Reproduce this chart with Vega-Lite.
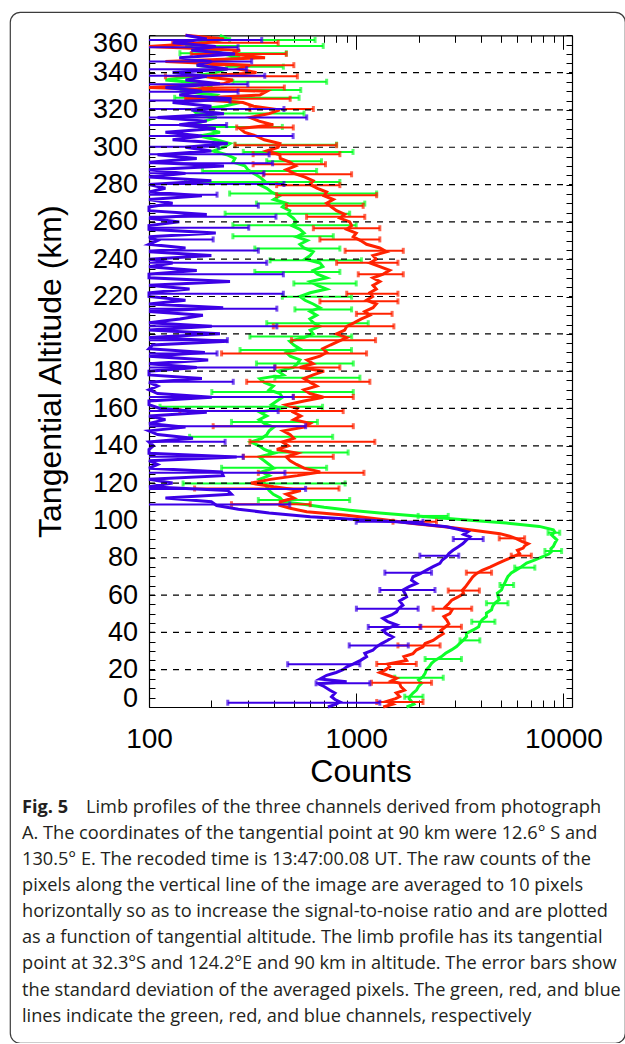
{
"$schema": "https://vega.github.io/schema/vega-lite/v6.json",
"width": 615, "height": 1031,
"autosize": "none",
"padding": {"left": 10, "top": 12, "right": 0, "bottom": 0},
"background": "white",
"config": {
 "view": {"stroke": "#3c3c3c", "strokeWidth": 1.2, "cornerRadius": 10, "fill": "white"},
 "axis": {"labelFont": "Liberation Sans", "titleFont": "Liberation Sans", "labelColor": "#000", "titleColor": "#000", "domainColor": "#000", "tickColor": "#000", "titleFontWeight": "normal", "grid": false, "zindex": 1, "domainWidth": 1.2, "tickWidth": 1}
},
"resolve": {"scale": {"x": "independent", "y": "independent"}, "axis": {"x": "independent", "y": "independent"}},
"datasets": {
 "grid": [{"alt":20},{"alt":40},{"alt":60},{"alt":80},{"alt":100},{"alt":120},{"alt":140},{"alt":160},{"alt":180},{"alt":200},{"alt":220},{"alt":240},{"alt":260},{"alt":280},{"alt":300},{"alt":320},{"alt":340}],
 "fig": [{"line":1,"text":"Fig. 5"}],
 "cap1": [{"line":1,"text":"Limb profiles of the three channels derived from photograph"}],
 "cap": [
  {"line":2,"text":"A. The coordinates of the tangential point at 90 km were 12.6° S and"},
  {"line":3,"text":"130.5° E. The recoded time is 13:47:00.08 UT. The raw counts of the"},
  {"line":4,"text":"pixels along the vertical line of the image are averaged to 10 pixels"},
  {"line":5,"text":"horizontally so as to increase the signal-to-noise ratio and are plotted"},
  {"line":6,"text":"as a function of tangential altitude. The limb profile has its tangential"},
  {"line":7,"text":"point at 32.3°S and 124.2°E and 90 km in altitude. The error bars show"},
  {"line":8,"text":"the standard deviation of the averaged pixels. The green, red, and blue"},
  {"line":9,"text":"lines indicate the green, red, and blue channels, respectively"}
 ],
 "lines": [
  {"ch":"g","alt":0,"v":1750},{"ch":"g","alt":1.5,"v":1900},{"ch":"g","alt":3,"v":1850},{"ch":"g","alt":4.5,"v":1800},{"ch":"g","alt":5.6,"v":1815},{"ch":"g","alt":7.5,"v":1880},{"ch":"g","alt":9.1,"v":1955},{"ch":"g","alt":11,"v":2000},{"ch":"g","alt":12.7,"v":2070},{"ch":"g","alt":14.5,"v":2000},{"ch":"g","alt":16.3,"v":2100},{"ch":"g","alt":18,"v":2150},{"ch":"g","alt":19.9,"v":2180},{"ch":"g","alt":21.5,"v":2250},{"ch":"g","alt":23.4,"v":2310},{"ch":"g","alt":25,"v":2400},{"ch":"g","alt":27,"v":2580},{"ch":"g","alt":28.8,"v":2700},{"ch":"g","alt":30.6,"v":2880},{"ch":"g","alt":32.4,"v":3050},{"ch":"g","alt":34.2,"v":3170},{"ch":"g","alt":36,"v":3300},{"ch":"g","alt":37.8,"v":3410},{"ch":"g","alt":39.5,"v":3400},{"ch":"g","alt":41.3,"v":3670},{"ch":"g","alt":43,"v":3900},{"ch":"g","alt":44.9,"v":3950},{"ch":"g","alt":46.7,"v":4050},{"ch":"g","alt":48.5,"v":4250},{"ch":"g","alt":50.3,"v":4250},{"ch":"g","alt":52.1,"v":4500},{"ch":"g","alt":53.9,"v":4550},{"ch":"g","alt":55.7,"v":4670},{"ch":"g","alt":57.5,"v":4900},{"ch":"g","alt":59.2,"v":4840},{"ch":"g","alt":61,"v":4800},{"ch":"g","alt":62.8,"v":5030},{"ch":"g","alt":64.6,"v":5100},{"ch":"g","alt":66.4,"v":5210},{"ch":"g","alt":68.2,"v":5300},{"ch":"g","alt":70,"v":5400},{"ch":"g","alt":71.8,"v":5600},{"ch":"g","alt":73.5,"v":5930},{"ch":"g","alt":75.3,"v":6300},{"ch":"g","alt":77.1,"v":6640},{"ch":"g","alt":78.9,"v":7300},{"ch":"g","alt":80.7,"v":8000},{"ch":"g","alt":82,"v":8500},{"ch":"g","alt":83.4,"v":8760},{"ch":"g","alt":84.8,"v":8700},{"ch":"g","alt":86.1,"v":8940},{"ch":"g","alt":87.9,"v":9100},{"ch":"g","alt":89.6,"v":9290},{"ch":"g","alt":91,"v":9000},{"ch":"g","alt":92.3,"v":8760},{"ch":"g","alt":93.7,"v":9100},{"ch":"g","alt":95,"v":8940},{"ch":"g","alt":96.8,"v":7650},{"ch":"g","alt":98.6,"v":5300},{"ch":"g","alt":100.4,"v":3300},{"ch":"g","alt":102.2,"v":2030},{"ch":"g","alt":104,"v":1300},{"ch":"g","alt":105.5,"v":930},{"ch":"g","alt":107,"v":700},{"ch":"g","alt":108.5,"v":566},
  {"ch":"g","alt":110,"v":445},{"ch":"g","alt":112,"v":430},{"ch":"g","alt":114,"v":398},{"ch":"g","alt":116,"v":380},{"ch":"g","alt":118,"v":370},{"ch":"g","alt":120,"v":360},{"ch":"g","alt":122,"v":340},{"ch":"g","alt":124,"v":380},{"ch":"g","alt":126,"v":350},{"ch":"g","alt":128,"v":400},{"ch":"g","alt":130,"v":380},{"ch":"g","alt":132,"v":360},{"ch":"g","alt":134,"v":340},{"ch":"g","alt":136,"v":400},{"ch":"g","alt":138,"v":360},{"ch":"g","alt":140,"v":340},{"ch":"g","alt":142,"v":310},{"ch":"g","alt":144,"v":350},{"ch":"g","alt":146,"v":370},{"ch":"g","alt":148,"v":380},{"ch":"g","alt":150,"v":400},{"ch":"g","alt":152,"v":360},{"ch":"g","alt":154,"v":340},{"ch":"g","alt":156,"v":370},{"ch":"g","alt":158,"v":343},{"ch":"g","alt":160,"v":428},{"ch":"g","alt":162,"v":390},{"ch":"g","alt":164,"v":414},{"ch":"g","alt":166,"v":440},{"ch":"g","alt":168,"v":428},{"ch":"g","alt":170,"v":380},{"ch":"g","alt":172,"v":398},{"ch":"g","alt":174,"v":360},{"ch":"g","alt":176,"v":343},{"ch":"g","alt":178,"v":445},{"ch":"g","alt":180,"v":420},{"ch":"g","alt":182,"v":497},{"ch":"g","alt":184,"v":520},{"ch":"g","alt":186,"v":535},{"ch":"g","alt":188,"v":480},{"ch":"g","alt":190,"v":460},{"ch":"g","alt":192,"v":535},{"ch":"g","alt":194,"v":500},{"ch":"g","alt":196,"v":478},{"ch":"g","alt":198,"v":560},{"ch":"g","alt":200,"v":620},{"ch":"g","alt":202,"v":600},{"ch":"g","alt":204,"v":668},{"ch":"g","alt":206,"v":620},{"ch":"g","alt":208,"v":598},{"ch":"g","alt":210,"v":644},{"ch":"g","alt":212,"v":600},{"ch":"g","alt":214,"v":668},{"ch":"g","alt":216,"v":620},{"ch":"g","alt":218,"v":566},{"ch":"g","alt":220,"v":535},{"ch":"g","alt":222,"v":600},{"ch":"g","alt":224,"v":720},{"ch":"g","alt":226,"v":650},{"ch":"g","alt":228,"v":600},{"ch":"g","alt":230,"v":720},{"ch":"g","alt":232,"v":650},{"ch":"g","alt":234,"v":620},{"ch":"g","alt":236,"v":690},{"ch":"g","alt":238,"v":668},{"ch":"g","alt":240,"v":566},{"ch":"g","alt":242,"v":600},{"ch":"g","alt":244,"v":620},{"ch":"g","alt":246,"v":560},{"ch":"g","alt":248,"v":535},{"ch":"g","alt":250,"v":580},{"ch":"g","alt":252,"v":515},{"ch":"g","alt":254,"v":560},{"ch":"g","alt":256,"v":535},{"ch":"g","alt":258,"v":490},{"ch":"g","alt":260,"v":515},{"ch":"g","alt":262,"v":497},{"ch":"g","alt":264,"v":470},{"ch":"g","alt":266,"v":478},{"ch":"g","alt":268,"v":440},{"ch":"g","alt":270,"v":460},{"ch":"g","alt":272,"v":400},{"ch":"g","alt":274,"v":428},{"ch":"g","alt":276,"v":390},{"ch":"g","alt":278,"v":370},{"ch":"g","alt":280,"v":340},{"ch":"g","alt":282,"v":360},{"ch":"g","alt":284,"v":343},{"ch":"g","alt":286,"v":320},{"ch":"g","alt":288,"v":300},{"ch":"g","alt":290,"v":290},{"ch":"g","alt":292,"v":254},{"ch":"g","alt":294,"v":260},{"ch":"g","alt":296,"v":237},{"ch":"g","alt":298,"v":204},{"ch":"g","alt":300,"v":230},{"ch":"g","alt":302,"v":246},{"ch":"g","alt":304,"v":210},{"ch":"g","alt":306,"v":176},{"ch":"g","alt":308,"v":220},{"ch":"g","alt":310,"v":190},{"ch":"g","alt":312,"v":157},{"ch":"g","alt":314,"v":185},{"ch":"g","alt":316,"v":212},{"ch":"g","alt":318,"v":170},{"ch":"g","alt":320,"v":163},{"ch":"g","alt":322,"v":230},{"ch":"g","alt":324,"v":275},{"ch":"g","alt":326,"v":200},{"ch":"g","alt":328,"v":212},{"ch":"g","alt":330,"v":141},{"ch":"g","alt":332,"v":200},{"ch":"g","alt":334,"v":190},{"ch":"g","alt":336,"v":120},{"ch":"g","alt":338,"v":163},{"ch":"g","alt":340,"v":210},{"ch":"g","alt":342,"v":237},{"ch":"g","alt":344,"v":170},{"ch":"g","alt":346,"v":190},{"ch":"g","alt":348,"v":275},{"ch":"g","alt":350,"v":230},{"ch":"g","alt":352,"v":204},{"ch":"g","alt":354,"v":150},{"ch":"g","alt":356,"v":176},{"ch":"g","alt":358,"v":240},{"ch":"g","alt":360,"v":220},
  {"ch":"r","alt":0,"v":1350},{"ch":"r","alt":1.5,"v":1500},{"ch":"r","alt":3,"v":1400},{"ch":"r","alt":4.5,"v":1550},{"ch":"r","alt":5.6,"v":1620},{"ch":"r","alt":7.5,"v":1560},{"ch":"r","alt":9,"v":1710},{"ch":"r","alt":11,"v":1640},{"ch":"r","alt":12.7,"v":1620},{"ch":"r","alt":14,"v":1480},{"ch":"r","alt":15.4,"v":1566},{"ch":"r","alt":17,"v":1420},{"ch":"r","alt":18.5,"v":1300},{"ch":"r","alt":20,"v":1390},{"ch":"r","alt":21.6,"v":1450},{"ch":"r","alt":23,"v":1420},{"ch":"r","alt":25,"v":1750},{"ch":"r","alt":27,"v":1700},{"ch":"r","alt":28.6,"v":1880},{"ch":"r","alt":30.5,"v":1950},{"ch":"r","alt":32.2,"v":2100},{"ch":"r","alt":34,"v":2150},{"ch":"r","alt":35.7,"v":2350},{"ch":"r","alt":37.5,"v":2480},{"ch":"r","alt":39.3,"v":2630},{"ch":"r","alt":41,"v":2560},{"ch":"r","alt":42.9,"v":2690},{"ch":"r","alt":44.5,"v":2800},{"ch":"r","alt":46.5,"v":2740},{"ch":"r","alt":48.5,"v":2650},{"ch":"r","alt":50,"v":2830},{"ch":"r","alt":52,"v":2900},{"ch":"r","alt":53.6,"v":2690},{"ch":"r","alt":55.5,"v":2800},{"ch":"r","alt":57.2,"v":2890},{"ch":"r","alt":59,"v":3100},{"ch":"r","alt":60.8,"v":3300},{"ch":"r","alt":62.5,"v":3250},{"ch":"r","alt":64.3,"v":3360},{"ch":"r","alt":66,"v":3450},{"ch":"r","alt":67.9,"v":3550},{"ch":"r","alt":69.7,"v":3650},{"ch":"r","alt":71.5,"v":3800},{"ch":"r","alt":73.3,"v":4050},{"ch":"r","alt":75,"v":4420},{"ch":"r","alt":76.8,"v":4800},{"ch":"r","alt":78.6,"v":5200},{"ch":"r","alt":80.4,"v":5700},{"ch":"r","alt":82.2,"v":6150},{"ch":"r","alt":84,"v":6000},{"ch":"r","alt":85.2,"v":6390},{"ch":"r","alt":86.4,"v":6500},{"ch":"r","alt":87.5,"v":6760},{"ch":"r","alt":88.8,"v":6300},{"ch":"r","alt":90.2,"v":5920},{"ch":"r","alt":91.5,"v":5500},{"ch":"r","alt":92.9,"v":4940},{"ch":"r","alt":94.7,"v":3670},{"ch":"r","alt":96.5,"v":2740},{"ch":"r","alt":98.3,"v":1880},{"ch":"r","alt":100.2,"v":1400},{"ch":"r","alt":102.8,"v":900},{"ch":"r","alt":104.6,"v":577},{"ch":"r","alt":106.5,"v":480},{"ch":"r","alt":108,"v":428},
  {"ch":"r","alt":110,"v":430},{"ch":"r","alt":112,"v":500},{"ch":"r","alt":114,"v":460},{"ch":"r","alt":116,"v":540},{"ch":"r","alt":118,"v":400},{"ch":"r","alt":120,"v":310},{"ch":"r","alt":122,"v":385},{"ch":"r","alt":124,"v":520},{"ch":"r","alt":126,"v":670},{"ch":"r","alt":128,"v":560},{"ch":"r","alt":130,"v":515},{"ch":"r","alt":132,"v":480},{"ch":"r","alt":134,"v":460},{"ch":"r","alt":136,"v":520},{"ch":"r","alt":138,"v":414},{"ch":"r","alt":140,"v":470},{"ch":"r","alt":142,"v":440},{"ch":"r","alt":144,"v":500},{"ch":"r","alt":146,"v":480},{"ch":"r","alt":148,"v":445},{"ch":"r","alt":150,"v":560},{"ch":"r","alt":152,"v":600},{"ch":"r","alt":154,"v":500},{"ch":"r","alt":156,"v":540},{"ch":"r","alt":158,"v":497},{"ch":"r","alt":160,"v":520},{"ch":"r","alt":162,"v":460},{"ch":"r","alt":164,"v":560},{"ch":"r","alt":166,"v":694},{"ch":"r","alt":168,"v":598},{"ch":"r","alt":170,"v":560},{"ch":"r","alt":172,"v":644},{"ch":"r","alt":174,"v":600},{"ch":"r","alt":176,"v":560},{"ch":"r","alt":178,"v":620},{"ch":"r","alt":180,"v":700},{"ch":"r","alt":182,"v":535},{"ch":"r","alt":184,"v":620},{"ch":"r","alt":186,"v":580},{"ch":"r","alt":188,"v":668},{"ch":"r","alt":190,"v":720},{"ch":"r","alt":192,"v":690},{"ch":"r","alt":194,"v":750},{"ch":"r","alt":196,"v":820},{"ch":"r","alt":198,"v":900},{"ch":"r","alt":200,"v":804},{"ch":"r","alt":202,"v":880},{"ch":"r","alt":204,"v":900},{"ch":"r","alt":206,"v":980},{"ch":"r","alt":208,"v":1060},{"ch":"r","alt":210,"v":1164},{"ch":"r","alt":212,"v":1100},{"ch":"r","alt":214,"v":1205},{"ch":"r","alt":216,"v":1250},{"ch":"r","alt":218,"v":1122},{"ch":"r","alt":220,"v":1200},{"ch":"r","alt":222,"v":1164},{"ch":"r","alt":224,"v":1250},{"ch":"r","alt":226,"v":1205},{"ch":"r","alt":228,"v":1300},{"ch":"r","alt":230,"v":1205},{"ch":"r","alt":232,"v":1350},{"ch":"r","alt":234,"v":1450},{"ch":"r","alt":236,"v":1300},{"ch":"r","alt":238,"v":1164},{"ch":"r","alt":240,"v":1250},{"ch":"r","alt":242,"v":1205},{"ch":"r","alt":244,"v":1400},{"ch":"r","alt":246,"v":1300},{"ch":"r","alt":248,"v":1122},{"ch":"r","alt":250,"v":1050},{"ch":"r","alt":252,"v":968},{"ch":"r","alt":254,"v":1000},{"ch":"r","alt":256,"v":900},{"ch":"r","alt":258,"v":950},{"ch":"r","alt":260,"v":930},{"ch":"r","alt":262,"v":834},{"ch":"r","alt":264,"v":880},{"ch":"r","alt":266,"v":804},{"ch":"r","alt":268,"v":760},{"ch":"r","alt":270,"v":720},{"ch":"r","alt":272,"v":775},{"ch":"r","alt":274,"v":700},{"ch":"r","alt":276,"v":720},{"ch":"r","alt":278,"v":650},{"ch":"r","alt":280,"v":598},{"ch":"r","alt":282,"v":620},{"ch":"r","alt":284,"v":566},{"ch":"r","alt":286,"v":500},{"ch":"r","alt":288,"v":460},{"ch":"r","alt":290,"v":510},{"ch":"r","alt":292,"v":478},{"ch":"r","alt":294,"v":430},{"ch":"r","alt":296,"v":428},{"ch":"r","alt":298,"v":370},{"ch":"r","alt":300,"v":420},{"ch":"r","alt":302,"v":428},{"ch":"r","alt":304,"v":360},{"ch":"r","alt":306,"v":330},{"ch":"r","alt":308,"v":290},{"ch":"r","alt":310,"v":275},{"ch":"r","alt":312,"v":398},{"ch":"r","alt":314,"v":340},{"ch":"r","alt":316,"v":307},{"ch":"r","alt":318,"v":380},{"ch":"r","alt":320,"v":428},{"ch":"r","alt":322,"v":320},{"ch":"r","alt":324,"v":284},{"ch":"r","alt":326,"v":150},{"ch":"r","alt":328,"v":343},{"ch":"r","alt":330,"v":370},{"ch":"r","alt":332,"v":90},{"ch":"r","alt":334,"v":228},{"ch":"r","alt":336,"v":254},{"ch":"r","alt":338,"v":180},{"ch":"r","alt":340,"v":330},{"ch":"r","alt":342,"v":270},{"ch":"r","alt":344,"v":307},{"ch":"r","alt":346,"v":120},{"ch":"r","alt":348,"v":363},{"ch":"r","alt":350,"v":250},{"ch":"r","alt":352,"v":275},{"ch":"r","alt":354,"v":80},{"ch":"r","alt":356,"v":190},{"ch":"r","alt":358,"v":230},{"ch":"r","alt":360,"v":150},
  {"ch":"b","alt":0,"v":730},{"ch":"b","alt":1.5,"v":800},{"ch":"b","alt":2.7,"v":834},{"ch":"b","alt":4,"v":790},{"ch":"b","alt":5.5,"v":760},{"ch":"b","alt":7.5,"v":790},{"ch":"b","alt":9,"v":747},{"ch":"b","alt":11,"v":700},{"ch":"b","alt":12.5,"v":653},{"ch":"b","alt":13.5,"v":899},{"ch":"b","alt":15,"v":668},{"ch":"b","alt":17,"v":720},{"ch":"b","alt":18.5,"v":800},{"ch":"b","alt":20,"v":863},{"ch":"b","alt":21.5,"v":900},{"ch":"b","alt":23,"v":964},{"ch":"b","alt":25,"v":1050},{"ch":"b","alt":27,"v":1122},{"ch":"b","alt":28.8,"v":1100},{"ch":"b","alt":30.4,"v":1203},{"ch":"b","alt":32.2,"v":1250},{"ch":"b","alt":34,"v":1325},{"ch":"b","alt":35.8,"v":1420},{"ch":"b","alt":37.5,"v":1503},{"ch":"b","alt":39.3,"v":1400},{"ch":"b","alt":41,"v":1345},{"ch":"b","alt":42.5,"v":1450},{"ch":"b","alt":44,"v":1566},{"ch":"b","alt":45.8,"v":1420},{"ch":"b","alt":47.5,"v":1345},{"ch":"b","alt":49.3,"v":1480},{"ch":"b","alt":51,"v":1566},{"ch":"b","alt":52.8,"v":1600},{"ch":"b","alt":54.6,"v":1680},{"ch":"b","alt":56.8,"v":1620},{"ch":"b","alt":59,"v":1750},{"ch":"b","alt":60.8,"v":1720},{"ch":"b","alt":62.7,"v":1680},{"ch":"b","alt":64.5,"v":1800},{"ch":"b","alt":66.2,"v":1955},{"ch":"b","alt":68,"v":1850},{"ch":"b","alt":69.8,"v":1880},{"ch":"b","alt":71.6,"v":2050},{"ch":"b","alt":73.4,"v":2187},{"ch":"b","alt":75.2,"v":2350},{"ch":"b","alt":77,"v":2535},{"ch":"b","alt":78.8,"v":2600},{"ch":"b","alt":80.6,"v":2730},{"ch":"b","alt":82.3,"v":2800},{"ch":"b","alt":84,"v":2930},{"ch":"b","alt":85.8,"v":3100},{"ch":"b","alt":87.6,"v":3275},{"ch":"b","alt":89.4,"v":3400},{"ch":"b","alt":91.2,"v":3540},{"ch":"b","alt":92.5,"v":3300},{"ch":"b","alt":93.9,"v":3450},{"ch":"b","alt":95.3,"v":3100},{"ch":"b","alt":96.6,"v":2730},{"ch":"b","alt":98,"v":2100},{"ch":"b","alt":99.3,"v":1566},{"ch":"b","alt":100.5,"v":1000},{"ch":"b","alt":102,"v":600},{"ch":"b","alt":104,"v":380},{"ch":"b","alt":106,"v":270},{"ch":"b","alt":108,"v":212},
  {"ch":"b","alt":110,"v":200},{"ch":"b","alt":112,"v":120},{"ch":"b","alt":114,"v":250},{"ch":"b","alt":116,"v":240},{"ch":"b","alt":118,"v":90},{"ch":"b","alt":120,"v":130},{"ch":"b","alt":122,"v":70},{"ch":"b","alt":124,"v":228},{"ch":"b","alt":126,"v":224},{"ch":"b","alt":128,"v":80},{"ch":"b","alt":130,"v":110},{"ch":"b","alt":132,"v":60},{"ch":"b","alt":134,"v":265},{"ch":"b","alt":136,"v":90},{"ch":"b","alt":138,"v":70},{"ch":"b","alt":140,"v":105},{"ch":"b","alt":142,"v":60},{"ch":"b","alt":144,"v":163},{"ch":"b","alt":146,"v":110},{"ch":"b","alt":148,"v":70},{"ch":"b","alt":150,"v":150},{"ch":"b","alt":152,"v":60},{"ch":"b","alt":154,"v":120},{"ch":"b","alt":156,"v":80},{"ch":"b","alt":158,"v":190},{"ch":"b","alt":160,"v":113},{"ch":"b","alt":162,"v":70},{"ch":"b","alt":164,"v":60},{"ch":"b","alt":166,"v":201},{"ch":"b","alt":168,"v":110},{"ch":"b","alt":170,"v":70},{"ch":"b","alt":172,"v":110},{"ch":"b","alt":174,"v":60},{"ch":"b","alt":176,"v":180},{"ch":"b","alt":178,"v":90},{"ch":"b","alt":180,"v":60},{"ch":"b","alt":182,"v":170},{"ch":"b","alt":184,"v":80},{"ch":"b","alt":186,"v":193},{"ch":"b","alt":188,"v":70},{"ch":"b","alt":190,"v":186},{"ch":"b","alt":192,"v":60},{"ch":"b","alt":194,"v":104},{"ch":"b","alt":196,"v":240},{"ch":"b","alt":198,"v":80},{"ch":"b","alt":200,"v":220},{"ch":"b","alt":202,"v":70},{"ch":"b","alt":204,"v":201},{"ch":"b","alt":206,"v":90},{"ch":"b","alt":208,"v":141},{"ch":"b","alt":210,"v":182},{"ch":"b","alt":212,"v":60},{"ch":"b","alt":214,"v":228},{"ch":"b","alt":216,"v":70},{"ch":"b","alt":218,"v":150},{"ch":"b","alt":220,"v":60},{"ch":"b","alt":222,"v":90},{"ch":"b","alt":224,"v":157},{"ch":"b","alt":226,"v":70},{"ch":"b","alt":228,"v":246},{"ch":"b","alt":230,"v":90},{"ch":"b","alt":232,"v":60},{"ch":"b","alt":234,"v":170},{"ch":"b","alt":236,"v":70},{"ch":"b","alt":238,"v":130},{"ch":"b","alt":240,"v":80},{"ch":"b","alt":242,"v":200},{"ch":"b","alt":244,"v":60},{"ch":"b","alt":246,"v":150},{"ch":"b","alt":248,"v":70},{"ch":"b","alt":250,"v":110},{"ch":"b","alt":252,"v":60},{"ch":"b","alt":254,"v":210},{"ch":"b","alt":256,"v":80},{"ch":"b","alt":258,"v":60},{"ch":"b","alt":260,"v":140},{"ch":"b","alt":262,"v":70},{"ch":"b","alt":264,"v":190},{"ch":"b","alt":266,"v":90},{"ch":"b","alt":268,"v":60},{"ch":"b","alt":270,"v":130},{"ch":"b","alt":272,"v":75},{"ch":"b","alt":274,"v":180},{"ch":"b","alt":276,"v":60},{"ch":"b","alt":278,"v":120},{"ch":"b","alt":280,"v":80},{"ch":"b","alt":282,"v":200},{"ch":"b","alt":284,"v":60},{"ch":"b","alt":286,"v":150},{"ch":"b","alt":288,"v":95},{"ch":"b","alt":290,"v":230},{"ch":"b","alt":292,"v":80},{"ch":"b","alt":294,"v":170},{"ch":"b","alt":296,"v":110},{"ch":"b","alt":298,"v":200},{"ch":"b","alt":300,"v":150},{"ch":"b","alt":302,"v":240},{"ch":"b","alt":304,"v":130},{"ch":"b","alt":306,"v":180},{"ch":"b","alt":308,"v":120},{"ch":"b","alt":310,"v":210},{"ch":"b","alt":312,"v":140},{"ch":"b","alt":314,"v":190},{"ch":"b","alt":316,"v":110},{"ch":"b","alt":318,"v":230},{"ch":"b","alt":320,"v":160},{"ch":"b","alt":322,"v":200},{"ch":"b","alt":324,"v":130},{"ch":"b","alt":326,"v":250},{"ch":"b","alt":328,"v":140},{"ch":"b","alt":330,"v":180},{"ch":"b","alt":332,"v":120},{"ch":"b","alt":334,"v":220},{"ch":"b","alt":336,"v":150},{"ch":"b","alt":338,"v":190},{"ch":"b","alt":340,"v":130},{"ch":"b","alt":342,"v":240},{"ch":"b","alt":344,"v":170},{"ch":"b","alt":346,"v":200},{"ch":"b","alt":348,"v":140},{"ch":"b","alt":350,"v":260},{"ch":"b","alt":352,"v":160},{"ch":"b","alt":354,"v":210},{"ch":"b","alt":356,"v":130},{"ch":"b","alt":358,"v":190},{"ch":"b","alt":360,"v":150}
 ],
 "bars": [
  {"ch":"g","alt":5.5,"lo":1715,"hi":2100},{"ch":"g","alt":15.7,"lo":1535,"hi":2630},{"ch":"g","alt":25.7,"lo":2150,"hi":3220},{"ch":"g","alt":35.7,"lo":3170,"hi":3950},{"ch":"g","alt":45.7,"lo":3610,"hi":4670},{"ch":"g","alt":55.6,"lo":4250,"hi":5400},{"ch":"g","alt":65.4,"lo":4940,"hi":5750},{"ch":"g","alt":74.7,"lo":5820,"hi":7280},{"ch":"g","alt":83.6,"lo":8140,"hi":9800},{"ch":"g","alt":93.4,"lo":8430,"hi":9600},{"ch":"g","alt":102.4,"lo":1990,"hi":2780},{"ch":"g","alt":110.9,"lo":337,"hi":930},{"ch":"g","alt":119.8,"lo":146,"hi":884},{"ch":"g","alt":128.2,"lo":224,"hi":720},{"ch":"g","alt":136.4,"lo":384,"hi":914},{"ch":"g","alt":144.8,"lo":157,"hi":770},{"ch":"g","alt":152.8,"lo":250,"hi":650},{"ch":"g","alt":160.9,"lo":113,"hi":688},{"ch":"g","alt":168.8,"lo":201,"hi":968},{"ch":"g","alt":176.5,"lo":405,"hi":1042},{"ch":"g","alt":184.1,"lo":330,"hi":968},{"ch":"g","alt":191.3,"lo":275,"hi":949},{"ch":"g","alt":198.6,"lo":307,"hi":951},{"ch":"g","alt":205.7,"lo":370,"hi":1143},{"ch":"g","alt":213.1,"lo":506,"hi":950},{"ch":"g","alt":219.9,"lo":440,"hi":950},{"ch":"g","alt":227,"lo":500,"hi":1000},{"ch":"g","alt":233.2,"lo":324,"hi":834},{"ch":"g","alt":239.4,"lo":384,"hi":1060},{"ch":"g","alt":245.7,"lo":324,"hi":834},{"ch":"g","alt":252.3,"lo":254,"hi":775},{"ch":"g","alt":258.2,"lo":254,"hi":1000},{"ch":"g","alt":264.4,"lo":233,"hi":930},{"ch":"g","alt":269.8,"lo":330,"hi":1100},{"ch":"g","alt":275.2,"lo":245,"hi":1255},{"ch":"g","alt":281.4,"lo":150,"hi":834},{"ch":"g","alt":287.3,"lo":181,"hi":644},{"ch":"g","alt":292.5,"lo":370,"hi":680},{"ch":"g","alt":297.5,"lo":285,"hi":965},{"ch":"g","alt":301.4,"lo":260,"hi":804},{"ch":"g","alt":310.9,"lo":176,"hi":440},{"ch":"g","alt":318.1,"lo":170,"hi":560},{"ch":"g","alt":326.5,"lo":133,"hi":530},{"ch":"g","alt":330.7,"lo":176,"hi":540},{"ch":"g","alt":335.1,"lo":254,"hi":720},{"ch":"g","alt":343.2,"lo":237,"hi":445},{"ch":"g","alt":350.4,"lo":141,"hi":460},{"ch":"g","alt":354.3,"lo":179,"hi":693},{"ch":"g","alt":357.5,"lo":245,"hi":633},
  {"ch":"r","alt":2.7,"lo":1256,"hi":2100},{"ch":"r","alt":13,"lo":1185,"hi":2310},{"ch":"r","alt":23.1,"lo":1256,"hi":1950},{"ch":"r","alt":33,"lo":1590,"hi":2540},{"ch":"r","alt":43,"lo":2030,"hi":3220},{"ch":"r","alt":52.7,"lo":2350,"hi":3610},{"ch":"r","alt":62.4,"lo":2780,"hi":3930},{"ch":"r","alt":72,"lo":3400,"hi":4500},{"ch":"r","alt":81.1,"lo":5600,"hi":7000},{"ch":"r","alt":90.4,"lo":4900,"hi":6500},{"ch":"r","alt":99.3,"lo":1505,"hi":2440},{"ch":"r","alt":108.7,"lo":250,"hi":600},{"ch":"r","alt":117.1,"lo":166,"hi":826},{"ch":"r","alt":125.5,"lo":337,"hi":1090},{"ch":"r","alt":134.1,"lo":285,"hi":775},{"ch":"r","alt":142.1,"lo":307,"hi":1230},{"ch":"r","alt":150.5,"lo":204,"hi":968},{"ch":"r","alt":158.6,"lo":141,"hi":865},{"ch":"r","alt":166.2,"lo":497,"hi":968},{"ch":"r","alt":174.3,"lo":296,"hi":1164},{"ch":"r","alt":182,"lo":405,"hi":834},{"ch":"r","alt":189.5,"lo":224,"hi":1122},{"ch":"r","alt":196.6,"lo":487,"hi":1240},{"ch":"r","alt":204,"lo":398,"hi":1520},{"ch":"r","alt":210.7,"lo":1002,"hi":1490},{"ch":"r","alt":217.4,"lo":668,"hi":1590},{"ch":"r","alt":221.5,"lo":900,"hi":1590},{"ch":"r","alt":231.9,"lo":1023,"hi":1687},{"ch":"r","alt":238.1,"lo":804,"hi":1590},{"ch":"r","alt":244.5,"lo":884,"hi":1687},{"ch":"r","alt":250.6,"lo":668,"hi":1300},{"ch":"r","alt":256.6,"lo":621,"hi":1300},{"ch":"r","alt":262.7,"lo":576,"hi":1100},{"ch":"r","alt":268.6,"lo":460,"hi":1080},{"ch":"r","alt":274.3,"lo":413,"hi":1255},{"ch":"r","alt":279.7,"lo":413,"hi":834},{"ch":"r","alt":285.5,"lo":356,"hi":950},{"ch":"r","alt":290.9,"lo":318,"hi":711},{"ch":"r","alt":296.3,"lo":318,"hi":834},{"ch":"r","alt":301.1,"lo":260,"hi":804},{"ch":"r","alt":310.6,"lo":265,"hi":497},{"ch":"r","alt":320.5,"lo":307,"hi":621},{"ch":"r","alt":326,"lo":150,"hi":480},{"ch":"r","alt":332,"lo":180,"hi":450},{"ch":"r","alt":338,"lo":120,"hi":520},{"ch":"r","alt":344,"lo":200,"hi":500},{"ch":"r","alt":350,"lo":160,"hi":460},{"ch":"r","alt":356,"lo":130,"hi":420},
  {"ch":"b","alt":2.3,"lo":240,"hi":1300},{"ch":"b","alt":12.7,"lo":640,"hi":1164},{"ch":"b","alt":22.9,"lo":467,"hi":1042},{"ch":"b","alt":33,"lo":925,"hi":1783},{"ch":"b","alt":42.9,"lo":1143,"hi":2050},{"ch":"b","alt":52.7,"lo":1002,"hi":1990},{"ch":"b","alt":62.7,"lo":1300,"hi":2400},{"ch":"b","alt":72,"lo":1375,"hi":2310},{"ch":"b","alt":81.1,"lo":2028,"hi":3126},{"ch":"b","alt":90,"lo":2940,"hi":4100},{"ch":"b","alt":99.3,"lo":1000,"hi":2100},
  {"ch":"b","alt":108.5,"lo":40,"hi":478},{"ch":"b","alt":116.9,"lo":40,"hi":570},{"ch":"b","alt":125.5,"lo":40,"hi":453},{"ch":"b","alt":134.1,"lo":40,"hi":285},{"ch":"b","alt":142.1,"lo":40,"hi":233},{"ch":"b","alt":150.5,"lo":40,"hi":570},{"ch":"b","alt":158.6,"lo":40,"hi":420},{"ch":"b","alt":166.2,"lo":40,"hi":497},{"ch":"b","alt":174.3,"lo":40,"hi":255},{"ch":"b","alt":182,"lo":40,"hi":405},{"ch":"b","alt":189.5,"lo":40,"hi":213},{"ch":"b","alt":196.6,"lo":40,"hi":239},{"ch":"b","alt":204,"lo":40,"hi":414},{"ch":"b","alt":213.5,"lo":40,"hi":414},{"ch":"b","alt":221.5,"lo":40,"hi":445},{"ch":"b","alt":231.9,"lo":40,"hi":445},{"ch":"b","alt":238.1,"lo":40,"hi":370},{"ch":"b","alt":244.6,"lo":40,"hi":337},{"ch":"b","alt":250.6,"lo":40,"hi":204},{"ch":"b","alt":256.9,"lo":40,"hi":303},{"ch":"b","alt":262.8,"lo":40,"hi":410},{"ch":"b","alt":268.7,"lo":40,"hi":337},{"ch":"b","alt":274.6,"lo":40,"hi":213},{"ch":"b","alt":280.3,"lo":40,"hi":448},{"ch":"b","alt":286,"lo":40,"hi":359},{"ch":"b","alt":291.4,"lo":40,"hi":395},{"ch":"b","alt":296.2,"lo":40,"hi":380},{"ch":"b","alt":300.3,"lo":40,"hi":217},{"ch":"b","alt":306,"lo":40,"hi":496},{"ch":"b","alt":311.9,"lo":40,"hi":237},{"ch":"b","alt":316,"lo":40,"hi":577},{"ch":"b","alt":320.5,"lo":40,"hi":448},{"ch":"b","alt":325,"lo":40,"hi":246},{"ch":"b","alt":329.8,"lo":40,"hi":269},{"ch":"b","alt":333.8,"lo":40,"hi":300},{"ch":"b","alt":338.3,"lo":40,"hi":362},{"ch":"b","alt":341.8,"lo":40,"hi":296},{"ch":"b","alt":346,"lo":40,"hi":313},{"ch":"b","alt":353.6,"lo":40,"hi":269},{"ch":"b","alt":357.5,"lo":40,"hi":350}
 ]
},
"layer": [
 {
  "data": {"name": "lines"},
  "transform": [{"filter": "datum.ch === 'g'"}],
  "mark": {"type": "line", "color": "#0dff2a", "strokeWidth": 3},
  "encoding": {
   "x": {"field": "v", "type": "quantitative", "scale": {"type": "log", "domain": [100, 11000], "range": [139, 562], "clamp": true, "nice": false},
         "axis": {"orient": "bottom", "offset": -336, "values": [100, 1000, 10000], "labels": false, "domain": false, "tickSize": -14, "title": null}},
   "y": {"field": "alt", "type": "quantitative", "scale": {"domain": [0, 360], "range": [695, 23.3], "nice": false, "zero": false},
         "axis": {"orient": "right", "offset": -53, "values": [0,5,10,15,20,25,30,35,40,45,50,55,60,65,70,75,80,85,90,95,100,105,110,115,120,125,130,135,140,145,150,155,160,165,170,175,180,185,190,195,200,205,210,215,220,225,230,235,240,245,250,255,260,265,270,275,280,285,290,295,300,305,310,315,320,325,330,335,340,345,350,355,360], "labels": false, "domain": true, "tickSize": -6, "title": null}},
   "order": {"field": "alt", "type": "quantitative"}
  }
 },
 {
  "data": {"name": "bars"},
  "transform": [{"filter": "datum.ch === 'g'"}],
  "mark": {"type": "rule", "color": "#0dff2a", "strokeWidth": 2},
  "encoding": {
   "x": {"field": "lo", "type": "quantitative", "scale": {"type": "log", "domain": [100, 11000], "range": [139, 562], "clamp": true, "nice": false},
         "axis": {"orient": "bottom", "offset": -336, "values": [200,300,400,500,600,700,800,900,2000,3000,4000,5000,6000,7000,8000,9000], "labels": false, "domain": false, "tickSize": -7, "title": null}},
   "x2": {"field": "hi"},
   "y": {"field": "alt", "type": "quantitative", "scale": {"domain": [0, 360], "range": [695, 23.3], "nice": false, "zero": false},
         "axis": {"orient": "left", "offset": -139, "values": [0,5,10,15,20,25,30,35,40,45,50,55,60,65,70,75,80,85,90,95,100,105,110,115,120,125,130,135,140,145,150,155,160,165,170,175,180,185,190,195,200,205,210,215,220,225,230,235,240,245,250,255,260,265,270,275,280,285,290,295,300,305,310,315,320,325,330,335,340,345,350,355,360], "labels": false, "domain": false, "tickSize": -6, "title": null}}
  }
 },
 {
  "data": {"name": "bars"},
  "transform": [{"filter": "datum.ch === 'g'"}, {"fold": ["lo", "hi"], "as": ["end", "xv"]}, {"filter": "datum.xv >= 100"}],
  "mark": {"type": "tick", "color": "#0dff2a", "orient": "vertical", "size": 6, "thickness": 3},
  "encoding": {
   "x": {"field": "xv", "type": "quantitative", "scale": {"type": "log", "domain": [100, 11000], "range": [139, 562], "clamp": true, "nice": false},
         "axis": {"orient": "top", "offset": -23.3, "values": [100, 1000, 10000], "labels": false, "domain": true, "tickSize": -14, "title": null}},
   "y": {"field": "alt", "type": "quantitative", "scale": {"domain": [0, 360], "range": [695, 23.3], "nice": false, "zero": false}, "axis": null}
  }
 },
 {
  "data": {"name": "lines"},
  "transform": [{"filter": "datum.ch === 'r'"}],
  "mark": {"type": "line", "color": "#ff2200", "strokeWidth": 3},
  "encoding": {
   "x": {"field": "v", "type": "quantitative", "scale": {"type": "log", "domain": [100, 11000], "range": [139, 562], "clamp": true, "nice": false},
         "axis": {"orient": "top", "offset": -23.3, "values": [200,300,400,500,600,700,800,900,2000,3000,4000,5000,6000,7000,8000,9000], "labels": false, "domain": false, "tickSize": -7, "title": null}},
   "y": {"field": "alt", "type": "quantitative", "scale": {"domain": [0, 360], "range": [695, 23.3], "nice": false, "zero": false}, "axis": null},
   "order": {"field": "alt", "type": "quantitative"}
  }
 },
 {
  "data": {"name": "bars"},
  "transform": [{"filter": "datum.ch === 'r'"}],
  "mark": {"type": "rule", "color": "#ff2200", "strokeWidth": 2},
  "encoding": {
   "x": {"field": "lo", "type": "quantitative", "scale": {"type": "log", "domain": [100, 11000], "range": [139, 562], "clamp": true, "nice": false}, "axis": null},
   "x2": {"field": "hi"},
   "y": {"field": "alt", "type": "quantitative", "scale": {"domain": [0, 360], "range": [695, 23.3], "nice": false, "zero": false}, "axis": null}
  }
 },
 {
  "data": {"name": "bars"},
  "transform": [{"filter": "datum.ch === 'r'"}, {"fold": ["lo", "hi"], "as": ["end", "xv"]}, {"filter": "datum.xv >= 100"}],
  "mark": {"type": "tick", "color": "#ff2200", "orient": "vertical", "size": 6, "thickness": 3},
  "encoding": {
   "x": {"field": "xv", "type": "quantitative", "scale": {"type": "log", "domain": [100, 11000], "range": [139, 562], "clamp": true, "nice": false}, "axis": null},
   "y": {"field": "alt", "type": "quantitative", "scale": {"domain": [0, 360], "range": [695, 23.3], "nice": false, "zero": false}, "axis": null}
  }
 },
 {
  "data": {"name": "lines"},
  "transform": [{"filter": "datum.ch === 'b'"}],
  "mark": {"type": "line", "color": "#3c00e6", "strokeWidth": 3},
  "encoding": {
   "x": {"field": "v", "type": "quantitative", "scale": {"type": "log", "domain": [100, 11000], "range": [139, 562], "clamp": true, "nice": false}, "axis": null},
   "y": {"field": "alt", "type": "quantitative", "scale": {"domain": [0, 360], "range": [695, 23.3], "nice": false, "zero": false}, "axis": null},
   "order": {"field": "alt", "type": "quantitative"}
  }
 },
 {
  "data": {"name": "bars"},
  "transform": [{"filter": "datum.ch === 'b'"}],
  "mark": {"type": "rule", "color": "#3c00e6", "strokeWidth": 2},
  "encoding": {
   "x": {"field": "lo", "type": "quantitative", "scale": {"type": "log", "domain": [100, 11000], "range": [139, 562], "clamp": true, "nice": false}, "axis": null},
   "x2": {"field": "hi"},
   "y": {"field": "alt", "type": "quantitative", "scale": {"domain": [0, 360], "range": [695, 23.3], "nice": false, "zero": false}, "axis": null}
  }
 },
 {
  "data": {"name": "bars"},
  "transform": [{"filter": "datum.ch === 'b'"}, {"fold": ["lo", "hi"], "as": ["end", "xv"]}, {"filter": "datum.xv >= 100"}],
  "mark": {"type": "tick", "color": "#3c00e6", "orient": "vertical", "size": 6, "thickness": 3},
  "encoding": {
   "x": {"field": "xv", "type": "quantitative", "scale": {"type": "log", "domain": [100, 11000], "range": [139, 562], "clamp": true, "nice": false}, "axis": null},
   "y": {"field": "alt", "type": "quantitative", "scale": {"domain": [0, 360], "range": [695, 23.3], "nice": false, "zero": false}, "axis": null}
  }
 },
 {
  "data": {"name": "grid"},
  "mark": {"type": "rule", "color": "#000", "strokeWidth": 1.2, "strokeDash": [6, 6]},
  "encoding": {
   "y": {"field": "alt", "type": "quantitative", "scale": {"domain": [0, 360], "range": [695, 23.3], "nice": false, "zero": false},
         "axis": {"orient": "left", "offset": -139, "values": [0,20,40,60,80,100,120,140,160,180,200,220,240,260,280,300,320,340,360], "ticks": false, "domain": true, "labelFontSize": 27, "labelPadding": 11.5, "labelFlush": true, "labelFlushOffset": 5, "title": "Tangential Altitude (km)", "titleFontSize": 32, "titlePadding": 25}},
   "x": {"datum": 100, "type": "quantitative", "scale": {"type": "log", "domain": [100, 11000], "range": [139, 562], "clamp": true, "nice": false},
         "axis": {"orient": "bottom", "offset": -336, "values": [100, 1000, 10000], "format": "d", "ticks": false, "domain": true, "labelFontSize": 28, "labelPadding": 18, "labelFlush": false, "title": "Counts", "titleFontSize": 32, "titlePadding": 3}},
   "x2": {"datum": 11000}
  }
 },
 {
  "data": {"name": "fig"},
  "mark": {"type": "text", "align": "left", "baseline": "alphabetic", "font": "Open Sans", "fontSize": 18.2, "fontWeight": "bold", "color": "#231f20"},
  "encoding": {
   "x": {"datum": 0, "type": "quantitative", "scale": {"domain": [0, 1], "range": [12, 600]}, "axis": null},
   "y": {"field": "line", "type": "quantitative", "scale": {"domain": [1, 9], "range": [800.8, 1009.6], "zero": false, "nice": false}, "axis": null},
   "text": {"field": "text"}
  }
 },
 {
  "data": {"name": "cap1"},
  "mark": {"type": "text", "align": "left", "baseline": "alphabetic", "font": "Open Sans", "fontSize": 18.2, "color": "#231f20", "dx": 64},
  "encoding": {
   "x": {"datum": 0, "type": "quantitative", "scale": {"domain": [0, 1], "range": [12, 600]}, "axis": null},
   "y": {"field": "line", "type": "quantitative", "scale": {"domain": [1, 9], "range": [800.8, 1009.6], "zero": false, "nice": false}, "axis": null},
   "text": {"field": "text"}
  }
 },
 {
  "data": {"name": "cap"},
  "mark": {"type": "text", "align": "left", "baseline": "alphabetic", "font": "Open Sans", "fontSize": 18.2, "color": "#231f20"},
  "encoding": {
   "x": {"datum": 0, "type": "quantitative", "scale": {"domain": [0, 1], "range": [12, 600]}, "axis": null},
   "y": {"field": "line", "type": "quantitative", "scale": {"domain": [1, 9], "range": [800.8, 1009.6], "zero": false, "nice": false}, "axis": null},
   "text": {"field": "text"}
  }
 }
]
}
